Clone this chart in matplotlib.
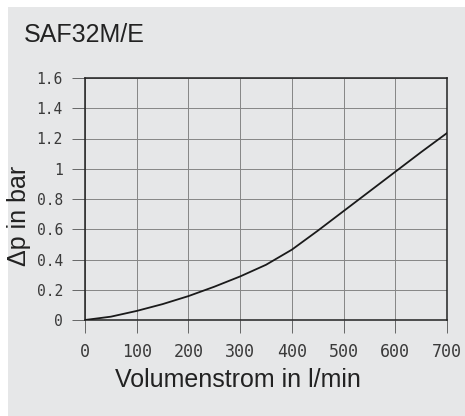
import matplotlib
matplotlib.use("Agg")
import matplotlib.pyplot as plt
from matplotlib.patches import Rectangle

# Data
flow = [0, 50, 100, 150, 200, 250, 300, 350, 400, 450, 500, 550, 600, 650, 700]
dp = [0.0, 0.022, 0.06, 0.105, 0.158, 0.22, 0.288, 0.365, 0.465, 0.59, 0.72, 0.85, 0.98, 1.11, 1.236]
xticks = [0, 100, 200, 300, 400, 500, 600, 700]
yticks = [0, 0.2, 0.4, 0.6, 0.8, 1.0, 1.2, 1.4, 1.6]
ytick_labels = ["0", "0.2", "0.4", "0.6", "0.8", "1", "1.2", "1.4", "1.6"]
title = "SAF32M/E"
xlabel = "Volumenstrom in l/min"
ylabel = "Δp in bar"

W, H = 465, 416
fig = plt.figure(figsize=(W / 100, H / 100), dpi=100, facecolor="white")
bg = "#e6e7e8"
fig.patches.append(Rectangle((8 / W, 0), 1 - 8 / W, 1 - 7 / H, transform=fig.transFigure,
                             facecolor=bg, edgecolor="none", zorder=-10))

ax = fig.add_axes([85 / W, 1 - 320 / H, (447 - 85) / W, (320 - 78) / H])
ax.set_zorder(5)
ax.set_facecolor("none")
ax.plot(flow, dp, color="#1a1a1a", lw=1.3, zorder=3)
ax.set_xlim(0, 700)
ax.set_ylim(0, 1.6)
ax.set_xticks(xticks)
ax.set_xticklabels([str(v) for v in xticks], fontsize=12, family="DejaVu Sans Mono", color="#3a3a3a")
ax.set_yticks(yticks)
ax.set_yticklabels(ytick_labels, fontsize=10.5, family="DejaVu Sans Mono", color="#3a3a3a")
ax.tick_params(axis="x", length=9.5, width=0.7, color="#666666", pad=7)
ax.tick_params(axis="y", length=9.5, width=0.7, color="#666666", pad=6.5)
ax.grid(True, color="#858585", lw=0.7)
for s in ax.spines.values():
    s.set_color("#222222")
    s.set_linewidth(1.1)

fig.text(24 / W, 1 - 42 / H, title, fontsize=18, family="Liberation Sans", color="#222222",
         ha="left", va="baseline", zorder=6)
fig.text(237.5 / W, 1 - 387 / H, xlabel, fontsize=18, family="Liberation Sans", color="#222222",
         ha="center", va="baseline", zorder=6)
fig.text(19 / W, 1 - 216 / H, ylabel, fontsize=18, family="Liberation Sans", color="#222222",
         ha="center", va="center", rotation=90, zorder=6)

fig.savefig("out.png", dpi=100, facecolor="white")
